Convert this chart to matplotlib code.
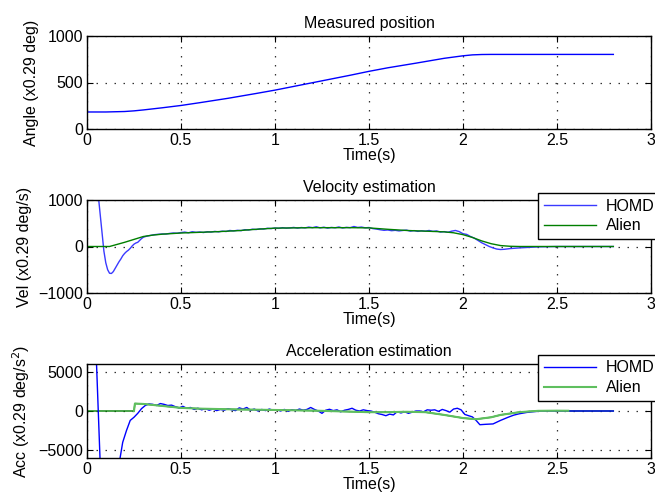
import numpy as np
import matplotlib
matplotlib.use("Agg")
import matplotlib.pyplot as plt

plt.rcParams['font.family'] = ['Liberation Sans', 'DejaVu Sans']
plt.rcParams['font.size'] = 11.5

# measured position (x0.29 deg)
t_pos = [0, 0.1, 0.2, 0.25, 0.3, 0.4, 0.5, 0.6, 0.75, 0.9, 1.0, 1.1, 1.25, 1.4, 1.5,
         1.6, 1.75, 1.9, 2.0, 2.05, 2.1, 2.15, 2.8]
pos = [183, 183, 188, 195, 205, 228, 253, 283, 330, 382, 418, 458, 518, 578, 620,
       658, 708, 760, 787, 797, 801, 802, 802]

# velocity estimation
t_vel_homd = [0, 0.005, 0.02, 0.04, 0.06, 0.07, 0.08, 0.09, 0.1, 0.11, 0.12, 0.13, 0.14,
              0.15, 0.16, 0.17, 0.18, 0.19, 0.2, 0.21, 0.22, 0.23, 0.24, 0.25, 0.26,
              0.27, 0.28, 0.29, 0.3,
              0.32, 0.34, 0.36, 0.38, 0.40, 0.42, 0.44, 0.46, 0.48, 0.50, 0.52, 0.54,
              0.56, 0.58, 0.60, 0.62, 0.64, 0.66, 0.68, 0.70, 0.72, 0.74, 0.76, 0.78,
              0.80, 0.82, 0.84, 0.86, 0.88, 0.90, 0.92, 0.94, 0.96, 0.98, 1.00, 1.02,
              1.04, 1.06, 1.08, 1.10, 1.12, 1.14, 1.16, 1.18, 1.20, 1.22, 1.24, 1.26,
              1.28, 1.30, 1.32, 1.34, 1.36, 1.38, 1.40, 1.42, 1.44, 1.46, 1.48, 1.50,
              1.52, 1.54, 1.56, 1.58, 1.60, 1.62, 1.64, 1.66, 1.68, 1.70, 1.72, 1.74,
              1.76, 1.78, 1.80, 1.82, 1.84, 1.86, 1.88, 1.90, 1.92, 1.94, 1.96, 1.98,
              2.00, 2.02, 2.04, 2.06, 2.08, 2.10, 2.12, 2.14, 2.16, 2.18, 2.20, 2.22,
              2.25, 2.30, 2.35, 2.40, 2.45, 2.50, 2.80]
vel_homd = [0, 4000, 2600, 1600, 1100, 700, 300, -100, -350, -500, -575, -580, -540,
            -470, -400, -330, -270, -200, -150, -110, -80, -40, 10, 50, 75,
            90, 130, 170, 200,
            225, 240, 255, 262, 270, 268, 282, 290, 285, 300, 310, 295,
            318, 305, 312, 300, 318, 310, 325, 315, 330, 322, 345, 335,
            348, 340, 362, 355, 372, 365, 380, 375, 392, 385, 398, 390,
            405, 395, 400, 410, 395, 408, 400, 418, 405, 425, 400, 415,
            395, 410, 402, 420, 398, 412, 405, 430, 410, 418, 402, 408,
            385, 375, 360, 348, 355, 340, 348, 335, 345, 352, 330, 342,
            325, 338, 330, 345, 325, 335, 310, 320, 305, 330, 345, 320,
            275, 260, 215, 180, 130, 80, 40, 0, -30, -55, -65, -60,
            -45, -30, -18, -8, -3, 0, 0]

t_vel_alien = [0, 0.12, 0.2, 0.3, 0.35, 0.4, 0.5, 0.6, 0.7, 0.8, 0.9, 1.0, 1.1, 1.2,
               1.3, 1.4, 1.5, 1.6, 1.7, 1.8, 1.9, 1.95, 2.0, 2.05, 2.1, 2.15, 2.2,
               2.25, 2.3, 2.8]
vel_alien = [0, 0, 90, 215, 245, 265, 290, 305, 320, 340, 370, 395, 400, 405,
             405, 405, 400, 370, 345, 330, 315, 295, 255, 195, 120, 60, 20,
             5, 0, 0]

# acceleration estimation
t_acc_homd = [0, 0.005, 0.03, 0.05, 0.07, 0.09, 0.12, 0.15, 0.176, 0.19, 0.21, 0.23,
              0.25, 0.27, 0.29, 0.31, 0.33, 0.35, 0.37, 0.39, 0.41, 0.43, 0.45, 0.47,
              0.49, 0.51, 0.53, 0.55, 0.57, 0.59, 0.61, 0.63, 0.65, 0.67, 0.69, 0.71,
              0.73, 0.75, 0.77, 0.79, 0.81, 0.83, 0.85, 0.87, 0.89, 0.91, 0.93, 0.95,
              0.97, 0.99, 1.01, 1.03, 1.05, 1.07, 1.09, 1.11, 1.13, 1.15, 1.17, 1.19,
              1.21, 1.23, 1.25, 1.27, 1.29, 1.31, 1.33, 1.35, 1.37, 1.39, 1.41, 1.43,
              1.45, 1.47, 1.49, 1.51, 1.53, 1.55, 1.57, 1.59, 1.61, 1.63, 1.65, 1.67,
              1.69, 1.71, 1.73, 1.75, 1.77, 1.79, 1.81, 1.83, 1.85, 1.87, 1.89, 1.91,
              1.93, 1.95, 1.97, 1.99, 2.01, 2.03, 2.05, 2.07, 2.09, 2.12, 2.16, 2.20,
              2.24, 2.27, 2.30, 2.34, 2.38, 2.42, 2.50, 2.80]
acc_homd = [0, 30000, 15000, 6500, -6500, -15000, -15000, -9000, -6000, -4000, -2500, -1200,
            -800, -300, 300, 700, 900, 850, 700, 950, 850, 700, 750, 550,
            400, 600, 350, 450, 200, 350, 150, 300, 100, 250, 50, 200,
            100, 300, 150, 50, 400, 250, 450, 100, 250, 0, 200, 50,
            250, 100, 150, 0, 200, -50, 150, 50, 250, 100, 200, 450,
            200, 0, -300, 100, 220, 50, 150, -100, 100, 200, 350, 100,
            0, 150, 50, 0, -150, -350, -450, -600, -400, -500, -90, -250,
            -100, -300, -150, 0, 0, -100, 150, 100, 150, -50, 200, 50,
            -150, 250, 350, 150, -440, -600, -750, -1200, -1750, -1700, -1650, -1200,
            -800, -530, -350, -180, -80, 0, 0, 0]

t_acc_alien = [0.25, 0.255, 0.3, 0.4, 0.5, 0.6, 0.8, 1.0, 1.2, 1.4, 1.5, 1.6, 1.7,
               1.8, 1.9, 2.0, 2.07, 2.15, 2.2, 2.3, 2.4, 2.5, 2.56]
acc_alien = [0, 950, 900, 650, 400, 300, 200, 130, 50, -80, -150, -150, -100,
             -150, -500, -900, -1050, -800, -500, -150, 20, 40, 30]


def style(ax, ylim, yticks):
    ax.set_xlim(0, 3)
    ax.set_ylim(*ylim)
    ax.set_xticks([0, 0.5, 1, 1.5, 2, 2.5, 3])
    ax.set_xticklabels(['0', '0.5', '1', '1.5', '2', '2.5', '3'])
    ax.set_yticks(yticks)
    ax.grid(True, linestyle=(0, (1.2, 6)), color='#333333', linewidth=0.9)
    ax.tick_params(direction='in', top=True, right=True, length=4, width=0.8, pad=3)
    for sp in ax.spines.values():
        sp.set_linewidth(1.0)
    ax.set_xlabel('Time(s)', labelpad=0)


fig = plt.figure(figsize=(6.55, 5.0), dpi=100)
ax1 = fig.add_axes([0.1328, 0.742, 0.861, 0.186])
ax2 = fig.add_axes([0.1328, 0.414, 0.861, 0.186])
ax3 = fig.add_axes([0.1328, 0.084, 0.861, 0.188])

ax1.plot(t_pos, pos, color='#0000ff', lw=1.0)
style(ax1, (0, 1000), [0, 500, 1000])
ax1.set_title('Measured position', fontsize=11.5, pad=6)
ax1.set_ylabel('Angle (x0.29 deg)', labelpad=6)

ax2.plot(t_vel_homd, vel_homd, color='#3a3aff', lw=1.0, label='HOMD')
ax2.plot(t_vel_alien, vel_alien, color='#007f00', lw=1.0, label='Alien')
style(ax2, (-1000, 1000), [-1000, 0, 1000])
ax2.set_title('Velocity estimation', fontsize=11.5, pad=6)
ax2.set_ylabel('Vel (x0.29 deg/s)')
ax2.legend(loc='upper left', bbox_to_anchor=(0.800, 1.075), fancybox=False,
           edgecolor='black', framealpha=1, handlelength=3.3, labelspacing=0.3,
           borderpad=0.35, borderaxespad=0, handletextpad=0.6)

# dark green zero trace under the Alien estimate
ax3.plot([0] + t_acc_alien + [2.8], [0] + acc_alien[:-1] + [0, 0], color='#007f00', lw=1.0)
ax3.plot(t_acc_homd, acc_homd, color='#0000ff', lw=1.0, label='HOMD')
ax3.plot(t_acc_alien, acc_alien, color='#5fbf5f', lw=1.5, label='Alien')
style(ax3, (-6000, 6000), [-5000, 0, 5000])
ax3.set_title('Acceleration estimation', fontsize=11.5, pad=6)
ax3.set_ylabel('Acc (x0.29 deg/s$^2$)')
ax3.legend(loc='upper left', bbox_to_anchor=(0.800, 1.097), fancybox=False,
           edgecolor='black', framealpha=1, handlelength=3.3, labelspacing=0.3,
           borderpad=0.35, borderaxespad=0, handletextpad=0.6)

fig.savefig('out.png', dpi=100)
